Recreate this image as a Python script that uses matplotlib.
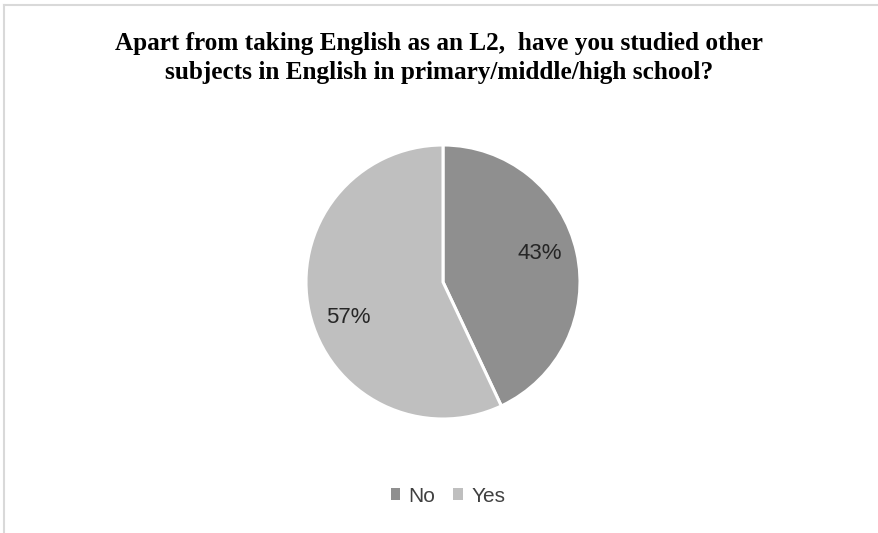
import numpy as np
import matplotlib.pyplot as plt
from matplotlib.lines import Line2D
from matplotlib.patches import Patch

labels = ['No', 'Yes']
shares = [43, 57]
colors = ['#8f8f8f', '#bfbfbf']
title = ('Apart from taking English as an L2,  have you studied other\n'
         'subjects in English in primary/middle/high school?')

W, H = 879, 533
fig = plt.figure(figsize=(W / 100, H / 100), dpi=100)

# light frame along the top and left edge
frame = dict(color='#d9d9d9', lw=1.5, transform=fig.transFigure)
fig.add_artist(Line2D([4 / W, 1.0], [1 - 5 / H, 1 - 5 / H], **frame))
fig.add_artist(Line2D([4 / W, 4 / W], [0.0, 1 - 5 / H], **frame))

fig.text(439 / W, 1 - 32 / H, title, ha='center', va='top', fontsize=18.2,
         fontweight='bold', family=['Liberation Serif', 'DejaVu Serif'], linespacing=1.33)

sans = ['Liberation Sans', 'DejaVu Sans']
cx, cy, r = 443, 533 - 282, 137
ax = fig.add_axes([(cx - r) / W, (cy - r) / H, 2 * r / W, 2 * r / H])
wedges, _, autotexts = ax.pie(shares, colors=colors, startangle=90, counterclock=False,
                              autopct='%d%%', pctdistance=0.74,
                              wedgeprops=dict(edgecolor='white', linewidth=2.2),
                              textprops=dict(fontsize=16, color='#262626', family=sans))
# nudge the percent labels a little counter-clockwise, as best-fit placement does
for w, t, shift in zip(wedges, autotexts, [4, 8]):
    ang = np.deg2rad((w.theta1 + w.theta2) / 2 + shift)
    t.set_position((0.74 * np.cos(ang), 0.74 * np.sin(ang)))
ax.set_xlim(-1, 1)
ax.set_ylim(-1, 1)
ax.set_aspect('equal')

handles = [Patch(facecolor=c, edgecolor='none', label=l) for c, l in zip(colors, labels)]
fig.legend(handles=handles, loc='center', bbox_to_anchor=(448 / W, 37 / H), ncol=2,
           frameon=False, handlelength=0.45, handleheight=0.45, handletextpad=0.4,
           columnspacing=0.87, prop=dict(size=15, family=sans), labelcolor='#404040')

fig.savefig('out.png', dpi=100)
